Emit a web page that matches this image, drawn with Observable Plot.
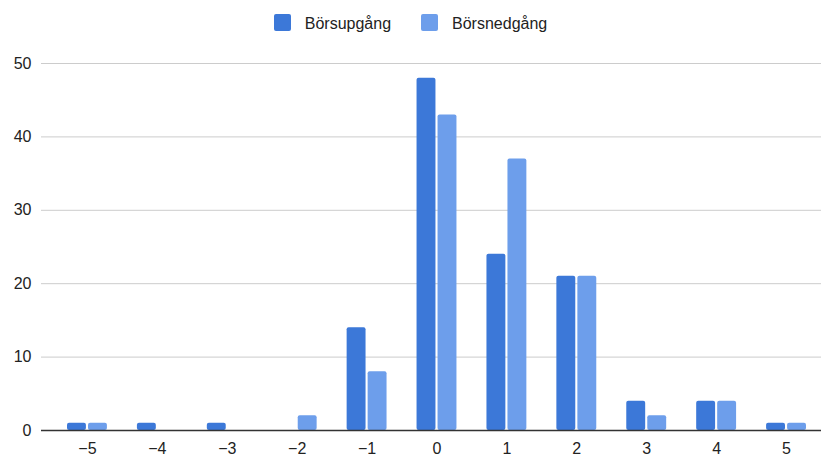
<!DOCTYPE html>
<html>
<head>
<meta charset="utf-8">
<script src="https://cdn.jsdelivr.net/npm/d3@7"></script>
<script src="https://cdn.jsdelivr.net/npm/@observablehq/plot@0.6"></script>
<style>
  html, body { margin: 0; padding: 0; background: #fff; }
  body { width: 821px; height: 457px; overflow: hidden; font-family: "Liberation Sans", Arial, sans-serif; }
  .legend { height: 45px; display: flex; justify-content: center; align-items: center; font-size: 16px; color: #222; }
  .item { display: flex; align-items: center; }
  .sw { width: 17px; height: 17px; border-radius: 2px; margin-right: 14px; }
  .item span { position: relative; top: 1px; }
  .item + .item { margin-left: 30px; }
</style>
</head>
<body>
<div class="legend" id="legend"></div>
<div id="chart"></div>
<script>
const categories = [-5, -4, -3, -2, -1, 0, 1, 2, 3, 4, 5];
const seriesNames = ["Börsupgång", "Börsnedgång"];
const upValues =   [1, 1, 1, 0, 14, 48, 24, 21, 4, 4, 1];
const downValues = [1, 0, 0, 2, 8, 43, 37, 21, 2, 4, 1];
const yTicks = [0, 10, 20, 30, 40, 50];
const colors = ["#3c78d8", "#6d9eeb"];

const fmt = d => String(d).replace("-", "\u2212");

const legend = document.getElementById("legend");
seriesNames.forEach((n, i) => {
  const it = document.createElement("div");
  it.className = "item";
  it.innerHTML = `<div class="sw" style="background:${colors[i]}"></div><span>${n}</span>`;
  legend.appendChild(it);
});

const up = categories.map((c, i) => ({cat: c, value: upValues[i]}));
const down = categories.map((c, i) => ({cat: c, value: downValues[i]}));

const chart = Plot.plot({
  width: 821,
  height: 412,
  marginTop: 18,
  marginBottom: 27,
  marginLeft: 41,
  marginRight: 0,
  style: {fontFamily: "'Liberation Sans', Arial, sans-serif", fontSize: "16px", color: "#222", overflow: "visible"},
  x: {domain: categories, range: [52, 821], padding: 0, round: false, label: null, tickSize: 0, tickPadding: 12, tickFormat: fmt},
  y: {domain: [0, 50], ticks: yTicks, label: null, tickSize: 0, tickPadding: 10},
  marks: [
    Plot.gridY(yTicks.filter(d => d > 0), {stroke: "#cccccc", strokeOpacity: 1, strokeWidth: 1}),
    Plot.barY(up, {x: "cat", y: "value", fill: colors[0], insetLeft: 15, insetRight: 36, rx: 2}),
    Plot.barY(down, {x: "cat", y: "value", fill: colors[1], insetLeft: 36, insetRight: 15, rx: 2}),
    Plot.ruleY([0], {stroke: "#333333", strokeWidth: 1.5})
  ]
});
document.getElementById("chart").appendChild(chart);
</script>
</body>
</html>
